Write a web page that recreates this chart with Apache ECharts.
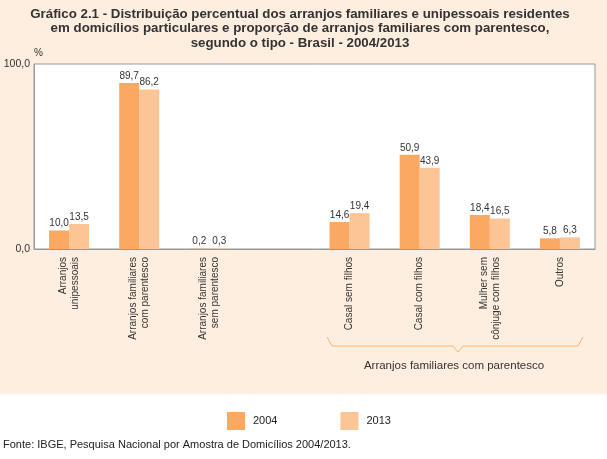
<!DOCTYPE html>
<html><head><meta charset="utf-8">
<script src="https://cdn.jsdelivr.net/npm/echarts@6/dist/echarts.min.js"></script>
<style>html,body{margin:0;padding:0;background:#fff}#c{width:607px;height:459px}</style>
</head><body><div id="c"></div>
<script>
const categories = ['Arranjos\nunipessoais', 'Arranjos familiares\ncom parentesco', 'Arranjos familiares\nsem parentesco', '', 'Casal sem filhos', 'Casal com filhos', 'Mulher sem\ncônjuge com filhos', 'Outros'];
const values2004 = [10.0, 89.7, 0.2, null, 14.6, 50.9, 18.4, 5.8];
const values2013 = [13.5, 86.2, 0.3, null, 19.4, 43.9, 16.5, 6.3];
const yTicks = [0, 100];
const seriesNames = ['2004', '2013'];

const FONT = 'Liberation Sans';
const fmt = v => Number(v).toFixed(1).replace('.', ',');
const chart = echarts.init(document.getElementById('c'));
const lbl = {show: true, position: 'top', distance: 2, fontSize: 10, color: '#333', fontFamily: FONT, formatter: p => fmt(p.value)};
chart.setOption({
  backgroundColor: '#fff',
  textStyle: {fontFamily: FONT},
  animation: false,
  graphic: [
    {type: 'rect', z: -10, shape: {x: 0, y: 0, width: 607, height: 394}, style: {fill: '#FDEEDF'}},
    {type: 'text', x: 300, y: 7, style: {text: 'Gráfico 2.1 - Distribuição percentual dos arranjos familiares e unipessoais residentes\nem domicílios particulares e proporção de arranjos familiares com parentesco,\nsegundo o tipo - Brasil - 2004/2013', fontFamily: FONT, fontWeight: 'bold', fontSize: 13.3, lineHeight: 14.5, fill: '#333', align: 'center', verticalAlign: 'top'}},
    {type: 'polyline', shape: {points: [[327,337],[332,346],[453,346],[458,352],[463,346],[578,346],[583,337]]}, style: {stroke: '#F7B577', lineWidth: 1, fill: null}},
    {type: 'text', x: 454, y: 366, style: {text: 'Arranjos familiares com parentesco', fontFamily: FONT, fontSize: 11.5, fill: '#333', align: 'center', verticalAlign: 'middle'}},
    {type: 'text', x: 3, y: 445, style: {text: 'Fonte: IBGE, Pesquisa Nacional por Amostra de Domicílios 2004/2013.', fontFamily: FONT, fontSize: 11, fill: '#222', verticalAlign: 'middle'}}
  ],
  legend: {left: 222, top: 407, itemWidth: 18, itemHeight: 18, itemGap: 63, icon: 'rect', textStyle: {fontSize: 11, color: '#222', fontFamily: FONT, padding: [0,0,0,3]}, data: seriesNames},
  grid: {left: 34, right: 12, top: 64, bottom: 210, show: true, backgroundColor: '#fff', borderColor: '#999', borderWidth: 1},
  xAxis: {type: 'category', data: categories, axisTick: {show: false}, axisLine: {lineStyle: {color: '#999'}},
    axisLabel: {rotate: 90, interval: 0, fontSize: 10, color: '#333', margin: 8, lineHeight: 12, fontFamily: FONT}},
  yAxis: {type: 'value', min: yTicks[0], max: yTicks[1], interval: 100, name: '%', nameGap: 5,
    nameTextStyle: {align: 'left', fontSize: 10, color: '#333', padding: [0,0,0,0]},
    axisLine: {show: true, lineStyle: {color: '#999'}}, axisTick: {show: false}, splitLine: {show: false},
    axisLabel: {formatter: v => fmt(v), fontSize: 10.5, color: '#333', margin: 4, fontFamily: FONT}},
  series: [
    {name: seriesNames[0], type: 'bar', data: values2004, barWidth: 20, barGap: '0%', itemStyle: {color: '#FBA962'}, label: lbl},
    {name: seriesNames[1], type: 'bar', data: values2013, barWidth: 20, barGap: '0%', itemStyle: {color: '#FDC595'}, label: lbl}
  ]
});
</script></body></html>
